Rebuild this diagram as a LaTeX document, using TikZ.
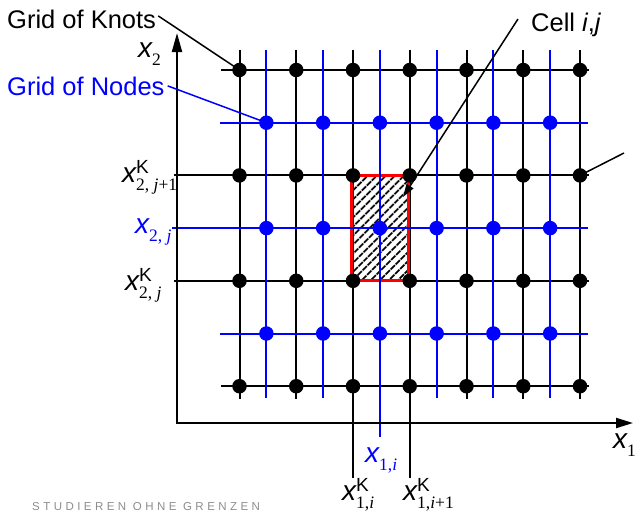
\documentclass[tikz,border=0pt]{standalone}
\usepackage{fontspec}
\setmainfont{Liberation Sans}
\newfontfamily\serifx{Liberation Serif}
\newfontfamily\wmfont[LetterSpace=30]{Liberation Sans}
\usetikzlibrary{arrows.meta,patterns.meta}
\definecolor{pblue}{RGB}{0,0,255}
\definecolor{pred}{RGB}{255,0,0}
\definecolor{wmgray}{RGB}{140,140,140}
\newcommand{\xbase}{{\fontsize{28}{28}\selectfont\itshape x}}
\newcommand{\xsub}[1]{\raisebox{-8pt}{\fontsize{17.5}{17.5}\selectfont\serifx #1}}
\newcommand{\xkl}[1]{\xbase\rlap{\raisebox{9pt}{\fontsize{19}{19}\selectfont K}}\xsub{#1}}
\tikzset{
  knot/.style={circle,fill=black,inner sep=0pt,minimum size=14.5pt},
  gnode/.style={circle,fill=pblue,inner sep=0pt,minimum size=14.5pt},
  kline/.style={line width=2pt,black},
  nline/.style={line width=2pt,pblue},
  lbl/.style={inner sep=0pt,font=\fontsize{25.5}{25.5}\selectfont},
  axlbl/.style={inner sep=0pt,anchor=base west},
  ptr/.style={line width=1.5pt,black},
}
\begin{document}
\begin{tikzpicture}[x=1pt,y=-1pt]
\useasboundingbox (0,0) rectangle (635,512);
% black knot lines
\foreach \c in {0,...,6}{
  \pgfmathsetmacro{\X}{239.5+56.75*\c}
  \ifnum\c=2 \draw[kline] (\X,50) -- (\X,478);
  \else\ifnum\c=3 \draw[kline] (\X,50) -- (\X,478);
  \else \draw[kline] (\X,50) -- (\X,398.5);\fi\fi
}
\foreach \r in {0,...,3}{
  \pgfmathsetmacro{\Y}{70+105.4*\r}
  \ifnum\r=1 \draw[kline] (174,\Y) -- (589,\Y);
  \else\ifnum\r=2 \draw[kline] (174,\Y) -- (589,\Y);
  \else \draw[kline] (221,\Y) -- (589,\Y);\fi\fi
}
% hatched cell
\path[pattern={Lines[angle=45,distance=6.5pt,line width=2pt]}] (351.5,175) rectangle (408,280);
\draw[pred,line width=3pt] (351.5,175) rectangle (408,280);
% blue node lines
\foreach \c in {0,...,5}{
  \pgfmathsetmacro{\X}{266.4+56.75*\c}
  \ifnum\c=2 \draw[nline] (\X,50) -- (\X,437);
  \else \draw[nline] (\X,50) -- (\X,398);\fi
}
\foreach \r in {0,...,2}{
  \pgfmathsetmacro{\Y}{122.7+105.4*\r}
  \ifnum\r=1 \draw[nline] (172,\Y) -- (588,\Y);
  \else \draw[nline] (220,\Y) -- (588,\Y);\fi
}
% axes
\coordinate (ytip) at (177,33);
\coordinate (orig) at (177,423);
\coordinate (xtip) at (633,423);
\draw[line width=2pt,{Triangle[length=19pt,width=10pt]}-{Triangle[length=17pt,width=10pt]}] (ytip) -- (orig) -- (xtip);
% labels
\node[lbl,anchor=base west] (lblK) at (7,28) {Grid of Knots};
\node[lbl,anchor=base west,text=pblue] (lblN) at (7,95) {Grid of Nodes};
\node[lbl,anchor=base west] (lblC) at (531,31) {Cell \textit{i},\textit{j}};
% dots
\foreach \c in {0,...,6}{
  \foreach \r in {0,...,3}{
    \node[knot] (k-\c-\r) at (239.5+56.75*\c,70+105.4*\r) {};
  }
}
\foreach \c in {0,...,5}{
  \foreach \r in {0,...,2}{
    \node[gnode] (n-\c-\r) at (266.4+56.75*\c,122.7+105.4*\r) {};
  }
}
% pointers
\draw[ptr] ([xshift=2pt,yshift=3pt]lblK.east) -- (k-0-0.center);
\draw[nline,line width=1.5pt] ([xshift=3pt]lblN.east) -- (n-0-0.center);
\coordinate (cstart) at (518,19);
\coordinate (ctip) at (403,197);
\draw[ptr,-{Triangle[length=13pt,width=8pt]}] (cstart) -- (ctip);
\coordinate (rend) at (624,153);
\draw[ptr] (k-6-1.center) -- (rend);
% axis labels
\node[axlbl] (ax2) at (138,57) {\xbase\xsub{2}};
\node[axlbl] (ax1) at (613,448) {\xbase\xsub{1}};
\node[axlbl] (y2a) at (122,182) {\xkl{2, \textit{j}+1}};
\node[axlbl,text=pblue] (y2b) at (135,233) {\xbase\xsub{2, \textit{j}}};
\node[axlbl] (y2c) at (125,290) {\xkl{2, \textit{j}}};
\node[axlbl,text=pblue] (x1b) at (365,462) {\xbase\xsub{1,\textit{i}}};
\node[axlbl] (x1a) at (342,500) {\xkl{1,\textit{i}}};
\node[axlbl] (x1c) at (403,500) {\xkl{1,\textit{i}+1}};
% watermark
\node[inner sep=0pt,anchor=base west,text=wmgray,font=\wmfont\fontsize{11.5}{11.5}\selectfont] (wm) at (32,510.5) {STUDIEREN OHNE GRENZEN};
\end{tikzpicture}
\end{document}
